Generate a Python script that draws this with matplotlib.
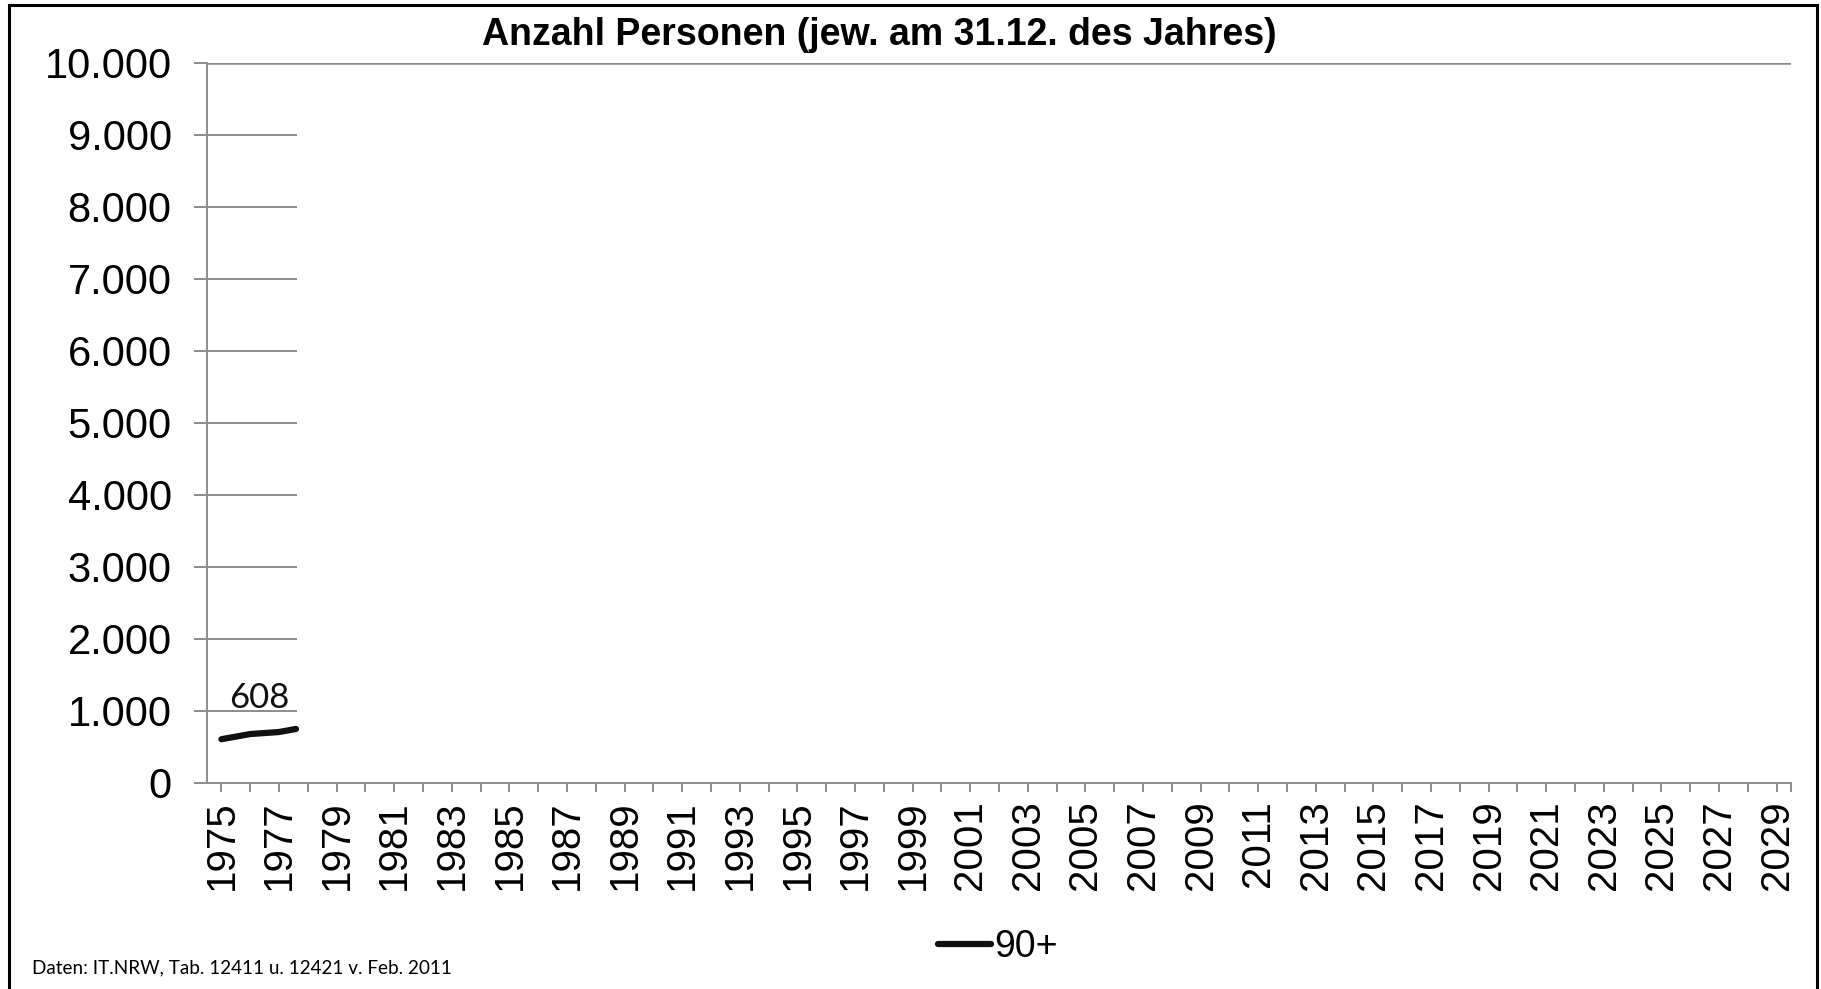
import numpy as np
import matplotlib
matplotlib.use('Agg')
import matplotlib.pyplot as plt
from matplotlib.patches import Rectangle
from matplotlib.lines import Line2D

# Daten (Personen 90+, jew. am 31.12.)
jahre = [1975, 1976, 1977, 1978]
personen_90 = [608, 680, 708, 780]
achsen_jahre = list(range(1975, 2030))
y_werte = list(range(0, 10001, 1000))
sichtbar_bis = 1977.59  # Animationsstand: nur bis hier gezeichnet

grau = '#8c8c8c'
plt.rcParams['font.family'] = ['Liberation Sans', 'DejaVu Sans']

fig = plt.figure(figsize=(18.21, 9.89), dpi=100)
ax = fig.add_axes([207 / 1821, 1 - 783 / 989, (1791 - 207) / 1821, (783 - 63) / 989])

ax.set_xlim(1974.5, 2029.5)
ax.set_ylim(0, 10000)

# Linie (abgeschnitten am Animationsstand)
x = np.array(jahre, dtype=float)
y = np.array(personen_90, dtype=float)
sel = x <= sichtbar_bis
xs = list(x[sel]) + [sichtbar_bis]
ys = list(y[sel]) + [np.interp(sichtbar_bis, x, y)]
ax.plot(xs, ys, color='#111111', lw=4.5, solid_capstyle='round', zorder=3)

# Gitterlinien
for w in y_werte[1:-1]:
    ax.plot([1974.5, sichtbar_bis], [w, w], color=grau, lw=1.4, zorder=1)
ax.axhline(10000, color=grau, lw=1.8, zorder=1)

ax.annotate('608', (1976.3, 1180), ha='center', va='center', fontsize=25,
            family=['Lato', 'DejaVu Sans'], color='#111111')

for s in ['top', 'right']:
    ax.spines[s].set_visible(False)
for s in ['left', 'bottom']:
    ax.spines[s].set_color(grau)
    ax.spines[s].set_linewidth(1.4)

ax.set_yticks(y_werte)
ax.set_yticklabels([f'{w:,}'.replace(',', '.') for w in y_werte])
ax.tick_params(axis='y', length=9.4, width=1.4, color=grau, labelsize=30, pad=16)

ax.set_xticks(achsen_jahre)
ax.set_xticklabels([str(j) if (j - 1975) % 2 == 0 else '' for j in achsen_jahre],
                   rotation=90)
ax.set_xticks([2029.5], minor=True)
ax.tick_params(axis='x', which='both', length=6.5, width=1.4, color=grau,
               labelsize=29, pad=6)

fig.text(879 / 1821, 1 - 35 / 989, 'Anzahl Personen (jew. am 31.12. des Jahres)',
         ha='center', va='center', fontsize=27, fontweight='bold')

h = Line2D([], [], color='#111111', lw=4.5, solid_capstyle='round')
ax.legend([h], ['90+'], loc='center', bbox_to_anchor=(998 / 1821, 1 - 947 / 989),
          bbox_transform=fig.transFigure, frameon=False, fontsize=27,
          handlelength=1.4, handletextpad=0.1)

fig.text(32 / 1821, 1 - 968 / 989, 'Daten: IT.NRW, Tab. 12411 u. 12421 v. Feb. 2011',
         ha='left', va='center', fontsize=13.6, family=['Lato', 'DejaVu Sans'])

fig.add_artist(Rectangle((9 / 1821, -0.05), (1817 - 9) / 1821, 1.05 - 5 / 989,
                         transform=fig.transFigure, fill=False, ec='black', lw=2.2))

plt.savefig('out.png', dpi=100)
